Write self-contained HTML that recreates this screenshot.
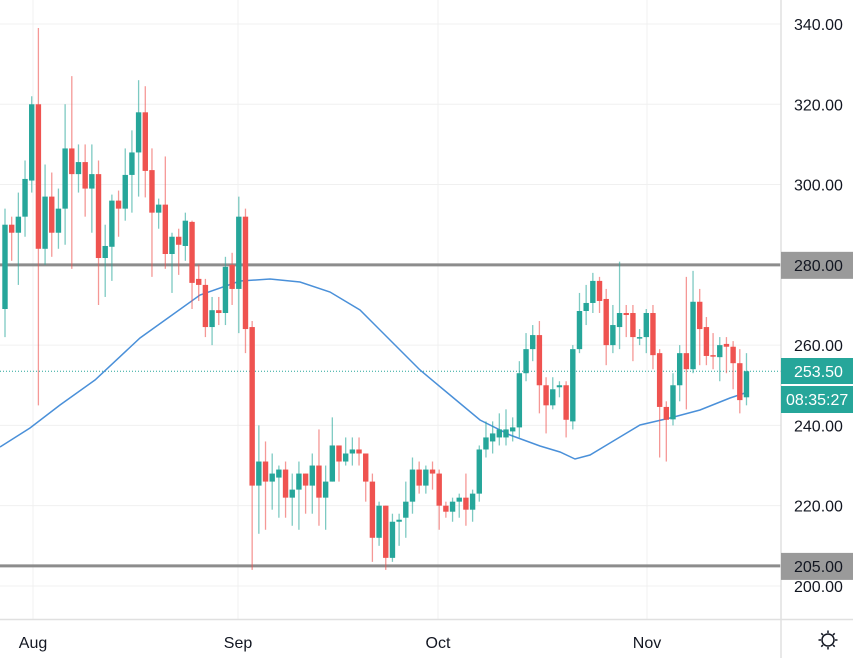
<!DOCTYPE html>
<html><head><meta charset="utf-8"><style>
html,body{margin:0;padding:0;background:#fff;width:853px;height:658px;overflow:hidden}
svg{display:block;font-family:"Liberation Sans",sans-serif}
</style></head><body>
<svg id="s" width="853" height="658" xmlns="http://www.w3.org/2000/svg"></svg>
<script>
const D=[
[269,290,294,262],[290,288,292,281],[288,292,298,275],[292,301.4,306,287],[301,320,322,298],[320,284,339,245],[284,297,305,280],[297,288,303,282],[288,294,299,284],[294,309,320,285],[309,302.6,327,279],[302.6,305.6,310,298],[305.6,299,310,292],[299,302.6,310,288],[302.6,281.7,306,270],[281.7,284.7,290,272],[284.5,296,297.5,276],[296,294,298.5,287],[294,302.4,309,291],[302.4,308,313.5,293],[308,318,326,297],[318,303.4,324.5,296.8],[303.6,293,309,277],[293,295,296.5,289],[295,282.7,307,279],[282.7,287,288,273],[287,285,289,277.5],[284.7,291,293,281],[290.7,275.5,291,269],[276.5,275,280,271],[275,264.5,276.5,262],[264.5,268.7,272,260],[268.7,268,272,265],[268,279.5,282,265],[280,274,283,270],[274,292,297,263],[292,264,294,258],
[264.5,225,266,204],[225,231,240,213],[231,226,236,214],[226,228,233,219],[227,229,230,217],[229,222,231,217],[222,224,228,215],[224,228,231,214],[228,225,228,218],[225,230,233,218],[230,222,239,215],[222,226,230,214],[226,235,242,227],[235,231,235,226],[231,233,237,230],[233,234,237,230],[234,233,237,230],[233,226,233,221],[226,212,228,206],[212,220,221,210],[220,207,220,204],[207,216,218,206],[216,216.5,218,210],[217,221,226,212],[221,229,232,218],[229,225,231,223],[225,229,230,223],[229,228,231,224],[228,220,229,214],[220,218.5,221,217],[218.5,221,222,216],[221,222,223,217],[222,219,228,215],[219,223,224,216],[223,234,235,221],[234,237,241,232],[236,238,241,233],[237,239,243,235],
[237,239,244,235],[238.5,239.5,242,236],[239.5,253,256,237],[253,259,263,251],[259,262.5,265,256],[262.5,250,266,243],[250,245,252,238],[245,249,252,244],[249.5,250,251,247],[250,241.4,251,237],[241,259,260,239],[259,268.5,273,258],[268.5,270.5,275,265],[270.5,276,278,268],[276,271,277,268],[271.5,260,274,255],[260,265,270,258],[264.5,268,280.8,259],[268,267.5,270,262],[268,262,270,256],[262,262,264,260],[262,268,269,258],[268,257.5,270,254],[258,244.6,259,232],[244.6,241.4,246,231],[241.5,250,253,240],[250,258,260,246],[258,254,277,244],[254,270.8,278.5,253],[270.8,264,274,255],[264.5,257.3,267,255],[257.5,257.3,263,254],[257,260,262,251],[260.3,259.6,262,253],[259.6,255.5,261,249],[255.5,246.3,259,243],[247,253.5,258,245]];
const Y=p=>24+(340-p)*4.014;
let h='';
// grid
[340,320,300,280,260,240,220,200].forEach(p=>{h+=`<line x1="0" x2="781" y1="${Y(p)}" y2="${Y(p)}" stroke="#f0f0f0"/>`});
[33,238,438,647].forEach(x=>{h+=`<line x1="${x}" x2="${x}" y1="0" y2="619" stroke="#f0f0f0"/>`});
// horizontal levels
h+=`<line x1="0" x2="781" y1="${Y(280)}" y2="${Y(280)}" stroke="#8c8c8c" stroke-width="3"/>`;
h+=`<line x1="0" x2="781" y1="${Y(205)}" y2="${Y(205)}" stroke="#8c8c8c" stroke-width="3"/>`;
h+=`<line x1="0" x2="781" y1="${Y(253.5)}" y2="${Y(253.5)}" stroke="#26a69a" stroke-dasharray="1,2"/>`;
// MA
const M=[[0,447],[30,428],[60,405],[95,380],[140,338],[200,295],[240,281],[270,279],[300,282],[330,292],[360,310],[390,340],[420,370],[450,395],[480,420],[510,435],[540,446],[560,452],[575,459],[590,455],[610,443],[640,425],[670,418],[700,410],[730,398],[748,392]];
h+=`<polyline fill="none" stroke="#4a90d9" stroke-width="1.5" points="${M.map(p=>p.join(',')).join(' ')}"/>`;
// candles
D.forEach((c,i)=>{const x=5+6.68*i;const [o,cl,hi,lo]=c;const g=cl>=o;const col=g?'#26a69a':'#ef5350';
h+=`<line x1="${x}" x2="${x}" y1="${Y(Math.max(hi,o,cl))}" y2="${Y(Math.min(lo,o,cl))}" stroke="${col}" stroke-opacity="0.6" stroke-width="1.3"/>`;
const t=Y(Math.max(o,cl)),b=Y(Math.min(o,cl));h+=`<rect x="${x-2.7}" y="${t}" width="5.4" height="${Math.max(1.5,b-t)}" fill="${col}"/>`;});
// axes
h+=`<rect x="781" y="0" width="72" height="658" fill="#fff"/><rect x="0" y="620" width="853" height="38" fill="#fff"/>`;
h+=`<line x1="781" x2="781" y1="0" y2="658" stroke="#e0e0e0" stroke-width="1.5"/><line x1="0" x2="853" y1="619.5" y2="619.5" stroke="#e0e0e0" stroke-width="1.5"/>`;
[340,320,300,260,240,220,200].forEach(p=>{h+=`<text x="794" y="${Y(p)+6}" font-size="16" fill="#131722">${p}.00</text>`});
h+=`<rect x="781" y="${Y(280)-13}" width="72" height="27" fill="#9a9a9a"/><text x="794" y="${Y(280)+6}" font-size="16" fill="#131722">280.00</text>`;
h+=`<rect x="781" y="${Y(205)-13}" width="72" height="27" fill="#9a9a9a"/><text x="794" y="${Y(205)+6}" font-size="16" fill="#131722">205.00</text>`;
h+=`<rect x="781" y="358" width="72" height="26" fill="#26a69a"/><text x="794" y="377" font-size="16" fill="#fff">253.50</text>`;
h+=`<rect x="781" y="386" width="72" height="27" fill="#26a69a"/><text x="786" y="405" font-size="16" fill="#fff">08:35:27</text>`;
[['Aug',33],['Sep',238],['Oct',438],['Nov',647]].forEach(([t,x])=>{h+=`<text x="${x}" y="648" font-size="16" fill="#131722" text-anchor="middle">${t}</text>`});
h+=`<circle cx="828" cy="640" r="6" fill="none" stroke="#131722" stroke-width="1.5"/>`;
for(let k=0;k<8;k++){const a=k*Math.PI/4;h+=`<line x1="${828+7*Math.cos(a)}" y1="${640+7*Math.sin(a)}" x2="${828+9.5*Math.cos(a)}" y2="${640+9.5*Math.sin(a)}" stroke="#131722" stroke-width="1.5"/>`}
document.getElementById('s').innerHTML=h;
</script>
</body></html>
